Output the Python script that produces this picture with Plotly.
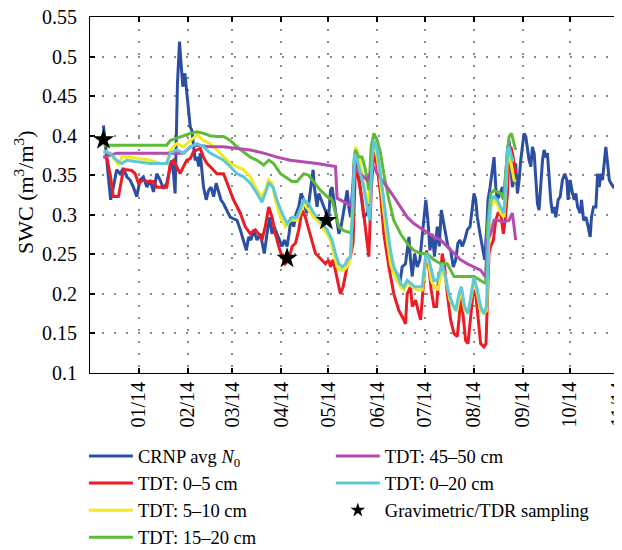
import pandas as pd
import plotly.graph_objects as go

START = pd.Timestamp("2013-12-01")

# ---- CRNP avg N0 (days since 2013-12-01, SWC m3/m3)
crnp_day = [8.5, 9.5, 11.6, 13.1, 14.8, 16.9, 19.0, 21.2, 23.3, 25.4, 27.5, 29.6, 31.7, 33.8, 36.0, 38.1,
            40.2, 42.3, 44.4, 46.5, 48.6, 50.8, 51.8, 52.9, 53.9, 55.4, 56.7, 57.5, 58.8, 60.1, 61.3, 62.6,
            63.5, 64.5, 65.6, 66.6, 67.7, 68.9, 69.8, 70.9, 71.9, 73.6, 75.1, 76.6, 78.3, 79.9, 81.4, 82.9,
            84.6, 86.7, 88.8, 90.9, 93.1, 95.2, 97.3, 99.0, 100.5, 101.9, 103.6, 105.8, 107.9, 109.6, 110.4,
            112.1, 113.8, 115.3, 116.7, 118.4, 120.1, 121.6, 123.1, 124.8, 126.1, 127.3, 129.0, 130.7, 132.2,
            133.7, 135.4, 137.1, 138.5, 140.0, 141.3, 142.1, 143.8, 144.9, 146.4, 148.1, 149.7, 151.2, 152.3,
            153.3, 154.4, 156.1, 157.6, 159.0, 160.3, 161.8, 162.9, 163.9, 165.0, 166.6, 167.5, 168.8, 170.2,
            171.3, 173.4, 175.5, 177.2, 178.7, 179.8, 180.8, 181.9, 183.6, 185.0, 187.2, 189.3, 191.4, 193.5,
            194.6, 196.2, 197.7, 199.8, 202.0, 203.0, 204.1, 205.6, 207.2, 208.9, 210.4, 211.5, 212.7, 214.0,
            215.3, 216.8, 218.2, 219.9, 221.2, 222.5, 223.7, 225.2, 226.7, 228.4, 230.1, 231.6, 233.0, 234.3,
            235.8, 237.3, 239.0, 240.7, 242.1, 243.2, 244.3, 245.3, 247.0, 248.5, 250.0, 251.2, 252.1, 253.4,
            254.8, 255.9, 257.0, 258.0, 259.7, 261.2, 262.2, 263.3, 264.4, 265.4, 266.5, 267.5, 268.6, 269.6,
            270.7, 271.8, 272.8, 273.9, 274.9, 276.0, 277.0, 278.1, 279.2, 280.2, 281.3, 282.3, 283.4, 284.4,
            285.5, 286.6, 287.6, 288.7, 289.7, 290.8, 291.8, 292.9, 294.0, 295.0, 296.5, 297.8, 299.2, 300.7,
            302.0, 302.8, 304.1, 305.6, 306.7, 307.7, 308.8, 310.5, 311.3, 312.6, 314.1, 315.5, 316.8, 317.6,
            318.9, 320.4, 321.5, 322.5, 323.6, 324.6, 325.7, 326.7, 327.8, 328.9, 329.9, 331.6, 333.1, 334.1, 335.2]
crnp_swc = [0.413, 0.395, 0.348, 0.319, 0.335, 0.357, 0.352, 0.359, 0.348, 0.344, 0.335, 0.323, 0.344, 0.348, 0.335, 0.344,
            0.329, 0.352, 0.344, 0.333, 0.340, 0.361, 0.369, 0.352, 0.327, 0.466, 0.519, 0.496, 0.462, 0.479, 0.454, 0.420,
            0.411, 0.407, 0.386, 0.369, 0.373, 0.361, 0.378, 0.352, 0.335, 0.319, 0.331, 0.335, 0.323, 0.340, 0.331, 0.319,
            0.314, 0.306, 0.297, 0.295, 0.293, 0.281, 0.268, 0.255, 0.272, 0.268, 0.281, 0.268, 0.276, 0.260, 0.251,
            0.276, 0.297, 0.276, 0.285, 0.276, 0.268, 0.260, 0.268, 0.260, 0.276, 0.297, 0.285, 0.302, 0.310,
            0.327, 0.319, 0.302, 0.314, 0.335, 0.357, 0.335, 0.310, 0.327, 0.319, 0.310, 0.302, 0.297, 0.331,
            0.335, 0.319, 0.297, 0.276, 0.285, 0.302, 0.319, 0.331, 0.310, 0.297, 0.340, 0.373, 0.373, 0.352,
            0.335, 0.297, 0.302, 0.319, 0.373, 0.382, 0.378, 0.361, 0.335, 0.319, 0.276, 0.251, 0.238, 0.222,
            0.217, 0.213, 0.234, 0.238, 0.272, 0.243, 0.222, 0.251, 0.234, 0.243, 0.272, 0.302, 0.319, 0.293,
            0.255, 0.276, 0.247, 0.285, 0.260, 0.306, 0.293, 0.276, 0.260, 0.255, 0.234, 0.243, 0.264, 0.268,
            0.260, 0.268, 0.281, 0.285, 0.310, 0.327, 0.319, 0.297, 0.276, 0.260, 0.243, 0.281, 0.319, 0.335,
            0.361, 0.373, 0.335, 0.319, 0.327, 0.335, 0.319, 0.352, 0.382, 0.394, 0.361, 0.335, 0.344, 0.365,
            0.327, 0.344, 0.369, 0.390, 0.403, 0.399, 0.386, 0.369, 0.361, 0.386, 0.378, 0.340, 0.314, 0.306,
            0.335, 0.369, 0.382, 0.373, 0.378, 0.344, 0.319, 0.302, 0.310, 0.297, 0.319, 0.323, 0.344, 0.352,
            0.344, 0.319, 0.344, 0.327, 0.319, 0.327, 0.310, 0.302, 0.319, 0.293, 0.297, 0.285, 0.272, 0.297,
            0.310, 0.310, 0.352, 0.335, 0.352, 0.344, 0.365, 0.386, 0.365, 0.344, 0.340, 0.335, 0.335, 0.314, 0.331]

# ---- TDT 0-5 cm
tdt05_day = [8.5, 10.6, 12.7, 14.8, 18.0, 19.0, 21.2, 23.3, 26.4, 28.6, 30.7, 33.8, 37.0, 40.2, 42.3, 45.5,
             48.6, 49.7, 50.8, 52.9, 55.0, 57.1, 59.2, 61.3, 63.5, 65.6, 67.7, 69.8, 71.9, 74.0, 76.1, 80.4,
             84.6, 87.8, 90.9, 95.2, 98.3, 101.5, 104.7, 106.8, 108.9, 111.0, 113.2, 115.3, 117.4, 119.5, 121.6,
             123.7, 125.8, 128.0, 130.1, 132.2, 134.3, 136.4, 138.5, 140.6, 142.8, 144.9, 147.0, 149.1, 151.2,
             152.3, 154.0, 155.5, 156.9, 158.6, 160.3, 162.8, 164.9, 166.6, 168.1, 170.2, 172.3, 174.5, 176.6,
             178.1, 179.8, 181.9, 184.0, 186.1, 189.3, 192.4, 195.6, 198.8, 199.8, 200.9, 203.0, 204.1, 206.2,
             208.3, 209.4, 211.5, 213.2, 214.6, 216.1, 217.8, 219.5, 221.0, 222.1, 223.1, 224.6, 226.3, 228.4,
             230.5, 232.6, 233.7, 234.7, 236.4, 237.9, 239.4, 241.1, 242.8, 244.3, 245.7, 247.4, 249.5, 250.8,
             251.7, 252.7, 253.8, 255.5, 257.0, 258.4, 260.1, 261.8, 262.9, 264.4, 265.4, 266.5, 267.5, 268.6, 269.6]
tdt05_swc = [0.373, 0.373, 0.352, 0.323, 0.323, 0.335, 0.357, 0.357, 0.356, 0.352, 0.340, 0.344, 0.342, 0.342, 0.335, 0.335,
             0.335, 0.348, 0.365, 0.369, 0.361, 0.352, 0.361, 0.369, 0.371, 0.380, 0.382, 0.384, 0.373, 0.365, 0.361, 0.352,
             0.352, 0.335, 0.319, 0.302, 0.285, 0.276, 0.281, 0.276, 0.268, 0.285, 0.310, 0.297, 0.276, 0.260, 0.247,
             0.238, 0.243, 0.260, 0.264, 0.281, 0.306, 0.297, 0.281, 0.268, 0.251, 0.247, 0.243, 0.238, 0.243,
             0.234, 0.243, 0.230, 0.217, 0.200, 0.209, 0.234, 0.247, 0.265, 0.361, 0.344, 0.319, 0.285, 0.247,
             0.330, 0.382, 0.361, 0.327, 0.276, 0.234, 0.200, 0.179, 0.167, 0.162, 0.200, 0.209, 0.184, 0.192,
             0.175, 0.167, 0.221, 0.255, 0.234, 0.205, 0.184, 0.184, 0.226, 0.226, 0.251, 0.234, 0.200, 0.167,
             0.150, 0.146, 0.167, 0.196, 0.171, 0.141, 0.137, 0.167, 0.205, 0.200, 0.167, 0.137, 0.133, 0.137,
             0.192, 0.251, 0.260, 0.268, 0.293, 0.302, 0.302, 0.276, 0.293, 0.327, 0.382, 0.386, 0.378, 0.361, 0.352]

# ---- TDT 5-10 cm
tdt510_day = [8.5, 10.6, 14.8, 18.0, 20.1, 25.4, 31.7, 38.1, 44.4, 48.6, 50.8, 55.0, 59.2, 63.5, 67.7, 71.9,
              76.1, 80.4, 84.6, 88.8, 93.1, 97.3, 101.5, 105.8, 108.9, 111.0, 113.2, 115.3, 117.4, 120.6, 123.7,
              126.9, 131.1, 135.4, 138.5, 141.7, 145.9, 148.1, 150.2, 152.3, 154.4, 156.5, 158.6, 160.7, 162.8,
              164.9, 166.6, 168.1, 170.2, 172.3, 174.5, 176.6, 178.1, 179.8, 181.9, 184.0, 186.1, 188.2, 190.3,
              192.4, 194.6, 196.7, 198.8, 200.9, 204.1, 207.2, 210.4, 212.5, 214.0, 216.1, 218.2, 220.4, 222.1,
              223.7, 225.9, 228.0, 230.1, 232.2, 233.7, 235.2, 237.3, 239.4, 241.5, 243.2, 245.3, 247.4, 249.5,
              251.2, 252.3, 253.8, 255.9, 258.0, 260.1, 262.2, 263.3, 264.4, 265.4, 266.9, 268.6, 269.6]
tdt510_swc = [0.380, 0.380, 0.373, 0.363, 0.373, 0.373, 0.371, 0.369, 0.365, 0.365, 0.382, 0.390, 0.386, 0.394, 0.401, 0.394,
              0.390, 0.382, 0.373, 0.365, 0.361, 0.357, 0.348, 0.331, 0.323, 0.331, 0.344, 0.340, 0.319, 0.297, 0.285,
              0.293, 0.293, 0.314, 0.306, 0.297, 0.289, 0.281, 0.276, 0.268, 0.251, 0.234, 0.230, 0.230, 0.234,
              0.243, 0.327, 0.386, 0.373, 0.352, 0.327, 0.314, 0.369, 0.390, 0.373, 0.340, 0.302, 0.268, 0.238,
              0.226, 0.217, 0.209, 0.205, 0.213, 0.209, 0.205, 0.205, 0.243, 0.247, 0.217, 0.209, 0.205, 0.222,
              0.230, 0.213, 0.192, 0.184, 0.177, 0.192, 0.205, 0.179, 0.177, 0.196, 0.217, 0.200, 0.179, 0.175,
              0.179, 0.251, 0.310, 0.319, 0.314, 0.302, 0.297, 0.327, 0.373, 0.378, 0.361, 0.344, 0.342]

# ---- TDT 15-20 cm
tdt1520_day = [8.5, 12.7, 21.2, 31.7, 42.3, 48.6, 50.8, 55.0, 59.2, 63.5, 67.7, 71.9, 76.1, 80.4, 84.6, 88.8,
               93.1, 97.3, 101.5, 105.8, 110.0, 113.2, 116.3, 120.6, 124.8, 128.0, 131.1, 135.4, 138.5, 141.7,
               145.9, 150.2, 153.3, 155.5, 157.6, 160.7, 165.5, 166.6, 167.1, 168.1, 170.2, 172.3, 174.5, 176.6,
               178.1, 179.8, 181.9, 184.0, 186.1, 189.3, 192.4, 196.7, 200.9, 205.1, 209.4, 213.6, 217.8, 222.1,
               226.3, 228.4, 230.5, 234.7, 239.0, 243.2, 247.4, 250.6, 251.7, 253.8, 255.9, 258.0, 260.1, 261.8,
               263.3, 264.4, 265.4, 266.9, 268.2, 269.6]
tdt1520_swc = [0.388, 0.388, 0.388, 0.388, 0.388, 0.388, 0.394, 0.397, 0.399, 0.403, 0.405, 0.403, 0.400, 0.399, 0.399, 0.394,
               0.386, 0.380, 0.373, 0.369, 0.363, 0.369, 0.365, 0.352, 0.346, 0.342, 0.342, 0.352, 0.350, 0.342,
               0.331, 0.323, 0.319, 0.302, 0.285, 0.280, 0.277, 0.300, 0.361, 0.382, 0.373, 0.373, 0.357, 0.331,
               0.386, 0.403, 0.394, 0.378, 0.352, 0.319, 0.293, 0.276, 0.264, 0.255, 0.251, 0.251, 0.243, 0.238,
               0.238, 0.230, 0.222, 0.222, 0.222, 0.222, 0.217, 0.213, 0.285, 0.327, 0.331, 0.329, 0.327, 0.319,
               0.352, 0.386, 0.399, 0.403, 0.394, 0.382]

# ---- TDT 45-50 cm
tdt4550_day = [8.5, 16.9, 31.7, 48.6, 55.0, 59.2, 63.5, 67.7, 76.1, 84.6, 93.1, 101.5, 110.0, 118.4, 126.9,
               135.4, 143.8, 152.3, 155.5, 156.5, 160.7, 165.0, 166.6, 167.1, 171.3, 175.5, 178.7, 179.8, 181.9,
               185.0, 188.2, 192.4, 196.7, 200.9, 205.1, 211.5, 217.8, 222.1, 226.3, 230.5, 234.7, 239.0, 243.2,
               247.4, 250.6, 251.7, 253.8, 255.9, 258.0, 262.2, 265.4, 267.5, 268.6, 269.6]
tdt4550_swc = [0.373, 0.378, 0.378, 0.378, 0.378, 0.378, 0.386, 0.388, 0.386, 0.386, 0.384, 0.382, 0.378, 0.373, 0.369,
               0.367, 0.365, 0.362, 0.361, 0.321, 0.317, 0.312, 0.310, 0.361, 0.352, 0.344, 0.357, 0.361, 0.352,
               0.344, 0.335, 0.323, 0.310, 0.297, 0.289, 0.281, 0.272, 0.268, 0.260, 0.251, 0.243, 0.238, 0.234,
               0.230, 0.221, 0.268, 0.276, 0.293, 0.293, 0.291, 0.293, 0.302, 0.285, 0.268]

# ---- TDT 0-20 cm
tdt020_day = [8.5, 12.7, 16.9, 20.1, 23.3, 29.6, 38.1, 44.4, 48.6, 50.8, 55.0, 59.2, 63.5, 67.7, 71.9, 76.1,
              80.4, 84.6, 88.8, 93.1, 97.3, 101.5, 105.8, 108.9, 111.0, 113.2, 115.9, 118.4, 121.6, 124.8, 128.0,
              131.1, 135.4, 138.5, 141.7, 145.9, 150.2, 153.3, 155.5, 157.6, 159.7, 161.8, 162.8, 164.9, 166.6,
              167.5, 169.2, 171.3, 173.4, 175.5, 177.2, 178.7, 179.8, 181.9, 184.0, 186.1, 188.2, 190.3, 192.4,
              194.6, 196.7, 198.8, 200.9, 203.0, 205.6, 208.3, 210.4, 212.5, 214.0, 215.7, 217.8, 219.9, 221.6,
              223.1, 225.2, 227.3, 229.5, 231.6, 233.7, 235.2, 237.3, 239.4, 241.5, 243.2, 245.3, 247.4, 249.5,
              251.2, 252.3, 253.8, 255.9, 258.0, 260.1, 262.2, 263.3, 264.4, 265.4, 266.5, 267.5, 268.6]
tdt020_swc = [0.380, 0.378, 0.369, 0.365, 0.369, 0.367, 0.365, 0.365, 0.365, 0.378, 0.382, 0.378, 0.386, 0.390, 0.386, 0.378,
              0.373, 0.369, 0.361, 0.352, 0.348, 0.340, 0.327, 0.316, 0.327, 0.340, 0.335, 0.319, 0.302, 0.289, 0.297,
              0.297, 0.319, 0.314, 0.302, 0.293, 0.281, 0.268, 0.251, 0.238, 0.234, 0.238, 0.243, 0.247, 0.319,
              0.377, 0.369, 0.352, 0.335, 0.310, 0.293, 0.369, 0.394, 0.382, 0.352, 0.319, 0.285, 0.255, 0.234,
              0.226, 0.213, 0.209, 0.217, 0.213, 0.209, 0.209, 0.209, 0.247, 0.251, 0.234, 0.217, 0.217, 0.230,
              0.238, 0.221, 0.200, 0.188, 0.179, 0.200, 0.209, 0.184, 0.175, 0.200, 0.221, 0.205, 0.184, 0.175,
              0.184, 0.276, 0.319, 0.323, 0.319, 0.310, 0.302, 0.335, 0.382, 0.386, 0.378, 0.369, 0.369]

# ---- Gravimetric/TDR sampling
grav_day = [8.5, 124.8, 149.7]
grav_swc = [0.395, 0.245, 0.293]

tick_months = ["2014-01-01", "2014-02-01", "2014-03-01", "2014-04-01", "2014-05-01", "2014-06-01",
               "2014-07-01", "2014-08-01", "2014-09-01", "2014-10-01", "2014-11-01"]
tick_labels = ["01/14", "02/14", "03/14", "04/14", "05/14", "06/14", "07/14", "08/14", "09/14", "10/14", "11/14"]
y_ticks = [0.1, 0.15, 0.2, 0.25, 0.3, 0.35, 0.4, 0.45, 0.5, 0.55]
y_labels = ["0.1", "0.15", "0.2", "0.25", "0.3", "0.35", "0.4", "0.45", "0.5", "0.55"]
y_title = "SWC (m<sup>3</sup>/m<sup>3</sup>)"


def to_dates(days):
    return START + pd.to_timedelta(days, unit="D")


FONT = "Liberation Serif, Times New Roman, serif"
series = [
    ("CRNP avg <i>N</i><sub>0</sub>", crnp_day, crnp_swc, "#2c4ea3", "legend"),
    ("TDT: 0–5 cm", tdt05_day, tdt05_swc, "#ec1c24", "legend"),
    ("TDT: 5–10 cm", tdt510_day, tdt510_swc, "#f2ea1f", "legend"),
    ("TDT: 15–20 cm", tdt1520_day, tdt1520_swc, "#5fba3a", "legend"),
    ("TDT: 45–50 cm", tdt4550_day, tdt4550_swc, "#b54ab0", "legend2"),
    ("TDT: 0–20 cm", tdt020_day, tdt020_swc, "#5ec8d8", "legend2"),
]

fig = go.Figure()
for name, d, v, c, lg in series:
    fig.add_trace(go.Scatter(x=to_dates(d), y=v, mode="lines", name=name,
                             line=dict(color=c, width=3), legend=lg))
# sampling points (drawn on the plot) + a legend-only entry with a smaller star
fig.add_trace(go.Scatter(x=to_dates(grav_day), y=grav_swc, mode="markers",
                         name="Gravimetric/TDR sampling", showlegend=False,
                         marker=dict(symbol="star", size=16, color="black")))
fig.add_trace(go.Scatter(x=[None], y=[None], mode="markers",
                         name="Gravimetric/TDR sampling", legend="legend2",
                         marker=dict(symbol="star", size=11, color="black")))

axis_common = dict(showline=True, linecolor="black", linewidth=1, mirror="allticks",
                   ticks="inside", ticklen=5, tickwidth=1.5, tickcolor="black",
                   showgrid=True, gridcolor="#8a8a8a", gridwidth=1.5, griddash="2px,10px",
                   zeroline=False, automargin=False, ticklabeloverflow="allow",
                   tickfont=dict(family=FONT, size=20, color="black"))

legend_common = dict(xref="container", yref="container", xanchor="left", yanchor="top",
                     bgcolor="rgba(0,0,0,0)", tracegroupgap=0, itemwidth=44,
                     font=dict(family=FONT, size=18.5, color="black"))

# the page body has an 8px margin, so the figure is offset by (8, 8) on screen
fig.update_layout(
    width=622, height=550,
    margin=dict(l=82, r=11, t=9, b=185, autoexpand=False),
    paper_bgcolor="white", plot_bgcolor="white",
    showlegend=True,
    font=dict(family=FONT, size=19, color="black"),
    xaxis=dict(type="date", range=["2013-12-01", "2014-11-01 01:00"], tickvals=tick_months,
               ticktext=tick_labels, tickangle=-90, **axis_common),
    yaxis=dict(range=[0.0999, 0.5502], tickvals=y_ticks, ticktext=y_labels,
               ticklabelstandoff=8, **axis_common),
    legend=dict(x=0.122, y=0.219, **legend_common),
    legend2=dict(x=0.519, y=0.219, **legend_common),
    annotations=[dict(text=y_title, textangle=-90, xref="paper", yref="paper",
                      x=-0.125, y=0.508, xanchor="center", yanchor="middle", showarrow=False,
                      font=dict(family=FONT, size=22, color="black"))],
)

fig.write_html("out.html")
